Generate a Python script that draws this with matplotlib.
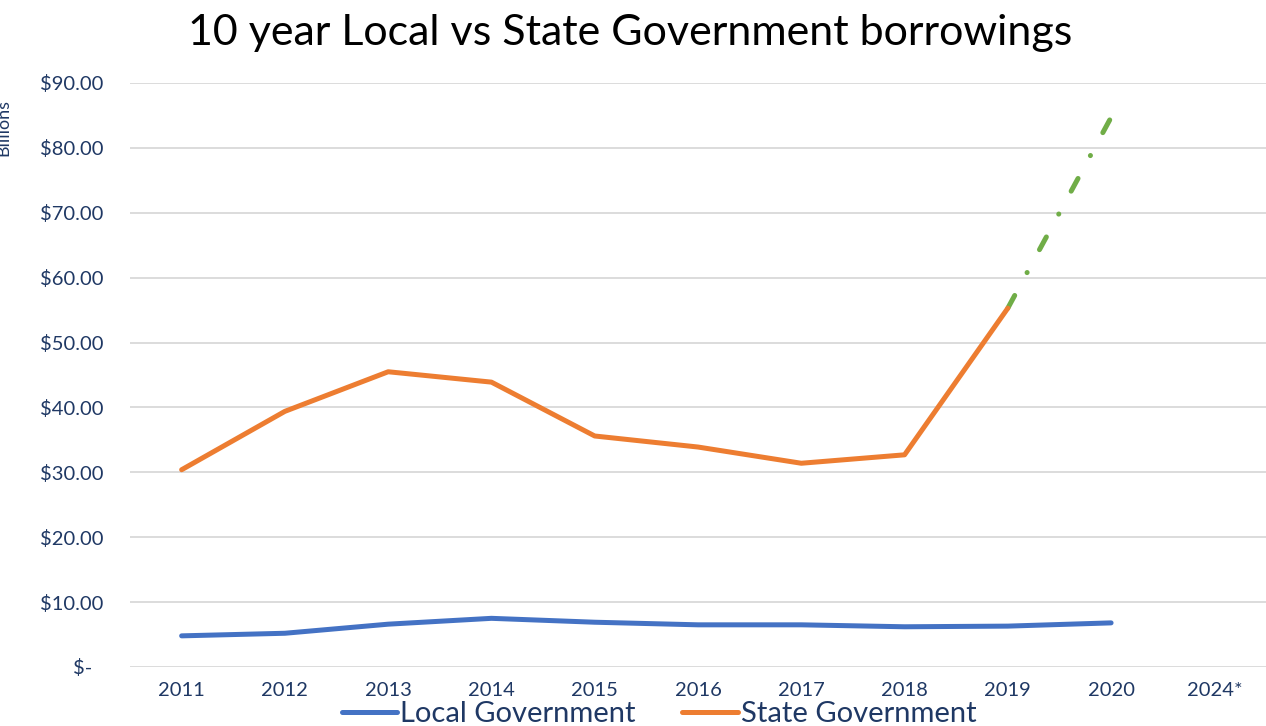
import numpy as np
import matplotlib
matplotlib.use("Agg")
import matplotlib.pyplot as plt
from matplotlib.lines import Line2D
from matplotlib.transforms import ScaledTranslation

plt.rcParams['font.family'] = ['Lato', 'DejaVu Sans']
plt.rcParams['lines.scale_dashes'] = False

years = ["2011", "2012", "2013", "2014", "2015", "2016", "2017", "2018", "2019", "2020", "2024*"]
local_gov = [4.8, 5.2, 6.6, 7.5, 6.9, 6.5, 6.5, 6.2, 6.3, 6.8, np.nan]
state_gov = [30.4, 39.4, 45.5, 43.9, 35.6, 33.9, 31.4, 32.7, 55.3, np.nan, np.nan]
projected = [np.nan, np.nan, np.nan, np.nan, np.nan, np.nan, np.nan, np.nan, 55.3, 84.7, np.nan]
yticks = [0, 10, 20, 30, 40, 50, 60, 70, 80, 90]
ytick_labels = ["$-", "$10.00", "$20.00", "$30.00", "$40.00", "$50.00", "$60.00", "$70.00", "$80.00", "$90.00"]

NAVY = "#1F3864"
BLUE = "#4472C4"
ORANGE = "#ED7D31"
GREEN = "#70AD47"
GRID = "#D9D9D9"

fig = plt.figure(figsize=(12.66, 7.26), dpi=100)
ax = fig.add_axes([130/1266, 59/726, 1136/1266, 584/726])

x = np.arange(len(years))
ax.plot(x, projected, color=GREEN, lw=3.6, linestyle=(0, (10.4, 18.7, 0.1, 18.7)),
        dash_capstyle='round', zorder=2)
ax.plot(x, local_gov, color=BLUE, lw=3.6, solid_capstyle='round', zorder=3)
ax.plot(x, state_gov, color=ORANGE, lw=3.6, solid_capstyle='round', zorder=3)

ax.set_xlim(-0.5, len(years) - 0.5)
ax.set_ylim(0, 90)
ax.set_yticks(yticks)
ax.set_yticklabels(ytick_labels)
ax.set_xticks(x)
ax.set_xticklabels(years)
ax.tick_params(axis='both', length=0, labelsize=14.5, labelcolor=NAVY)
ax.tick_params(axis='x', pad=11)
ax.tick_params(axis='y', pad=19)
# accounting-style zero label sits a little further left
zero_lab = ax.get_yticklabels()[0]
zero_lab.set_transform(zero_lab.get_transform() + ScaledTranslation(-11/100, 0, fig.dpi_scale_trans))
ax.grid(axis='y', color=GRID, lw=1.3)
ax.set_axisbelow(True)
for s in ax.spines.values():
    s.set_visible(False)

fig.text(630/1266, 1 - 33/726, "10 year Local vs State Government borrowings",
         ha='center', va='center', fontsize=31, color='black')

fig.text(0.003, 1 - 128/726, "Billions", rotation=90, ha='center', va='center',
         fontsize=13, color=NAVY)

handles = [Line2D([], [], color=BLUE, lw=3.6, solid_capstyle='round'),
           Line2D([], [], color=ORANGE, lw=3.6, solid_capstyle='round')]
fig.legend(handles, ["Local Government", "State Government"], loc='center',
           bbox_to_anchor=(659/1266, 1 - 714/726), ncol=2, frameon=False,
           fontsize=21, labelcolor=NAVY, handlelength=1.9, handletextpad=0.1,
           columnspacing=1.6)

fig.savefig("out.png", dpi=100)
